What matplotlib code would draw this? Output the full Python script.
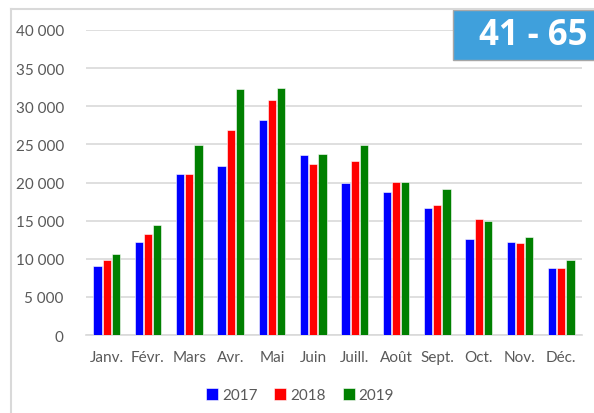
import matplotlib.pyplot as plt
import numpy as np
from matplotlib.patches import Rectangle

plt.rcParams['font.family'] = ['Lato', 'DejaVu Sans']

mois = ["Janv.", "Févr.", "Mars", "Avr.", "Mai", "Juin", "Juill.",
        "Août", "Sept.", "Oct.", "Nov.", "Déc."]
v2017 = [9100, 12250, 21150, 22100, 28200, 23650, 19900, 18800, 16600, 12650, 12250, 8750]
v2018 = [9800, 13200, 21150, 26950, 30850, 22450, 22850, 20100, 17000, 15150, 12050, 8850]
v2019 = [10600, 14450, 24900, 32300, 32400, 23750, 24950, 20100, 19200, 14900, 12800, 9900]
annees = ["2017", "2018", "2019"]
couleurs = ["#0000FF", "#FF0000", "#008000"]

fig = plt.figure(figsize=(5.94, 4.14), dpi=100)
ax = fig.add_axes([86/594, 1 - 336/414, 496/594, 305/414])

x = np.arange(len(mois))
w = 0.2
for i, (vals, lab, c) in enumerate(zip([v2017, v2018, v2019], annees, couleurs)):
    ax.bar(x + (i - 1) * (w + 0.02), vals, width=w, color=c, label=lab,
           edgecolor="white", linewidth=0.4, zorder=3)

ax.set_xlim(-0.5, len(mois) - 0.5)
ax.set_ylim(0, 40000)
ax.set_yticks(np.arange(0, 40001, 5000))
ax.set_yticklabels([f"{v:,}".replace(",", " ") for v in range(0, 40001, 5000)])
ax.set_xticks(x)
ax.set_xticklabels(mois)
ax.grid(axis="y", color="#D9D9D9", linewidth=1.2, zorder=0)
for s in ["top", "right", "left"]:
    ax.spines[s].set_visible(False)
ax.spines["bottom"].set_color("#D9D9D9")
ax.spines["bottom"].set_linewidth(1.2)
ax.tick_params(axis="both", length=0, colors="#595959", labelsize=11)
ax.tick_params(axis="y", pad=16)
ax.tick_params(axis="x", pad=11)

leg = fig.legend(loc="center", bbox_to_anchor=(300/594, 1 - 396/414), ncol=3,
                 frameon=False, handlelength=0.8, handleheight=0.8,
                 handletextpad=0.25, columnspacing=1.1, fontsize=11)
for t in leg.get_texts():
    t.set_color("#595959")

# cadre du graphique
fig.add_artist(plt.Line2D([11/594, 11/594], [0, 1 - 10/414], color="#D9D9D9",
                          linewidth=1.5, transform=fig.transFigure))
fig.add_artist(plt.Line2D([11/594, 1], [1 - 10/414, 1 - 10/414], color="#D9D9D9",
                          linewidth=1.5, transform=fig.transFigure))

# étiquette tranche d'âge
fig.add_artist(Rectangle((453/594, 1 - 61/414), 145/594, 50/414,
                         transform=fig.transFigure, facecolor="#3FA0DC",
                         edgecolor="#A6A6A6", linewidth=1))
fig.text(533/594, 1 - 36/414, "41 - 65", color="white", fontsize=25,
         fontweight="bold", ha="center", va="center", family=["Open Sans", "DejaVu Sans"])

fig.savefig("out.png", dpi=100)
